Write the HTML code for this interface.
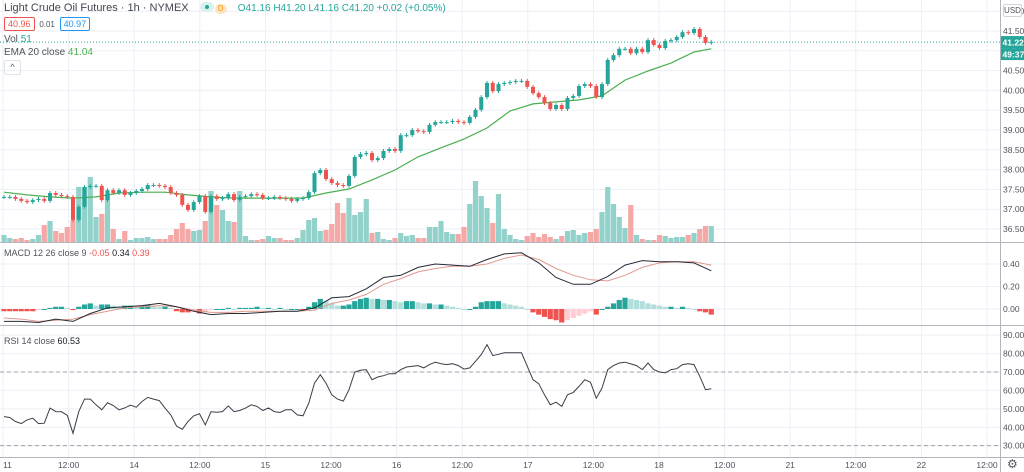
<!DOCTYPE html>
<html><head><meta charset="utf-8">
<style>
html,body{margin:0;padding:0;background:#fff;width:1024px;height:472px;overflow:hidden;font-family:"Liberation Sans",sans-serif;}
#wrap{position:relative;width:1024px;height:472px;}
svg{position:absolute;left:0;top:0;}
.lg{position:absolute;font-size:10px;color:#50535e;white-space:nowrap;}
</style></head><body>
<div id="wrap">
<svg id="chart" width="1024" height="472"></svg>
<div class="lg" style="left:4px;top:2px;font-size:11px;color:#434651">Light Crude Oil Futures · 1h · NYMEX
 <span style="display:inline-block;width:14px;height:10px;border-radius:6px;background:#d9f2ef;vertical-align:-1px;margin-left:8px;position:relative"><span style="position:absolute;left:5px;top:3px;width:4px;height:4px;border-radius:2px;background:#26a69a"></span></span><span style="display:inline-block;width:12px;height:10px;border-radius:6px;background:#fde3c4;color:#ff9800;font-size:8px;text-align:center;line-height:10px;vertical-align:0px;margin-left:1px">D</span>
 <span style="margin-left:8px;color:#26a69a;font-size:10px">O41.16 H41.20 L41.16 C41.20 +0.02 (+0.05%)</span></div>
<div class="lg" style="left:4px;top:17px">
 <span style="display:inline-block;border:1px solid #ef5350;border-radius:2px;color:#ef5350;padding:1px 3px;font-size:9px">40.96</span>
 <span style="font-size:8px;margin:0 2px">0.01</span>
 <span style="display:inline-block;border:1px solid #2196f3;border-radius:2px;color:#2196f3;padding:1px 3px;font-size:9px">40.97</span></div>
<div class="lg" style="left:4px;top:34px">Vol <span style="color:#26a69a">51</span></div>
<div class="lg" style="left:4px;top:47px">EMA 20 close <span style="color:#4caf50">41.04</span></div>
<div style="position:absolute;left:4px;top:60px;width:15px;height:13px;border:1px solid #e0e3eb;border-radius:2px;font-size:9px;text-align:center;line-height:13px;color:#50535e">^</div>
<div class="lg" style="left:4px;top:248px;font-size:9px">MACD 12 26 close 9 <span style="color:#ef5350">-0.05</span> <span style="color:#131722">0.34</span> <span style="color:#ef5350">0.39</span></div>
<div class="lg" style="left:4px;top:336px;font-size:9px">RSI 14 close <span style="color:#131722">60.53</span></div>
<div style="position:absolute;left:1003px;top:4px;width:17px;height:11px;border:1px solid #d1d4dc;border-radius:2px;font-size:8px;text-align:center;line-height:11px;color:#50535e;background:#fff">USD</div>
<div style="position:absolute;left:1007px;top:457px;font-size:12px;color:#50535e">⚙</div>
</div>
<script>
const closes=[37.31,37.31,37.26,37.21,37.18,37.23,37.26,37.21,37.41,37.36,37.33,37.31,36.73,37.06,37.56,37.59,37.59,37.23,37.48,37.41,37.48,37.36,37.41,37.46,37.51,37.61,37.61,37.59,37.56,37.41,37.36,37.11,36.98,37.18,37.33,36.93,37.33,37.26,37.28,37.38,37.23,37.31,37.33,37.38,37.36,37.28,37.28,37.31,37.28,37.26,37.21,37.26,
37.28,37.43,37.91,37.99,37.76,37.66,37.61,37.59,37.84,38.32,38.39,38.42,38.24,38.29,38.47,38.52,38.47,38.87,38.87,39.00,38.97,38.95,39.13,39.20,39.20,39.20,39.23,39.20,39.18,39.33,39.51,39.83,40.19,39.98,40.16,40.19,40.21,40.24,40.24,40.09,39.93,39.83,39.68,39.53,39.63,39.53,39.81,39.86,40.11,40.16,40.11,39.83,40.16,40.77,40.89,41.05,41.05,40.94,41.05,40.97,41.27,41.15,41.07,41.25,41.27,41.35,41.47,41.45,41.55,41.35,41.20,41.22];
const volumes=[7,4,3,4,2,3,7,17,21,11,9,15,22,55,55,65,25,28,48,13,3,11,2,4,4,5,3,3,3,7,13,19,13,11,12,21,51,37,32,21,20,51,6,2,2,3,6,4,4,2,2,4,12,22,24,11,12,18,39,29,44,27,30,43,9,10,3,2,4,9,6,7,4,4,15,15,21,10,8,8,15,38,61,46,34,19,48,13,7,3,2,6,9,5,8,5,3,6,11,12,7,9,10,13,30,55,38,25,14,37,7,3,2,2,7,6,4,5,5,7,9,13,16,16];
const emaBars=[0,4,8,12,16,20,24,28,32,36,40,44,48,52,56,60,64,68,72,76,80,84,88,92,96,100,104,108,112,116,120,123];
const emaValues=[37.43,37.36,37.31,37.28,37.31,37.41,37.43,37.43,37.36,37.31,37.28,37.28,37.28,37.28,37.41,37.51,37.74,37.99,38.32,38.55,38.77,39.05,39.48,39.66,39.71,39.76,39.86,40.26,40.49,40.69,40.97,41.05];
const macdBars=[0,3,6,9,12,15,18,21,24,27,30,33,36,39,42,45,48,51,54,57,60,63,66,69,72,75,78,81,84,87,90,93,96,99,102,105,108,111,114,117,120,123];
const macdLine=[-0.11,-0.11,-0.12,-0.09,-0.11,-0.04,0.01,0.02,0.03,0.05,0.02,-0.02,-0.05,-0.04,-0.04,-0.03,-0.02,-0.02,0.01,0.10,0.11,0.18,0.28,0.30,0.37,0.40,0.39,0.38,0.44,0.49,0.50,0.41,0.28,0.22,0.22,0.29,0.39,0.43,0.42,0.42,0.41,0.34];
const signalLine=[-0.08,-0.09,-0.11,-0.10,-0.09,-0.05,-0.02,0.01,0.02,0.03,0.02,-0.01,-0.03,-0.03,-0.02,-0.02,-0.02,-0.02,-0.01,0.05,0.08,0.13,0.22,0.27,0.33,0.36,0.38,0.38,0.40,0.45,0.48,0.44,0.36,0.30,0.26,0.25,0.30,0.37,0.41,0.42,0.42,0.39];
const histValues=[-0.02,-0.02,-0.02,-0.02,-0.02,-0.02,-0.01,0.00,0.01,0.02,0.02,0.01,-0.01,0.02,0.04,0.05,0.03,0.04,0.04,0.03,0.02,0.03,0.03,0.02,0.03,0.04,0.03,0.02,0.02,0.01,-0.02,-0.03,-0.03,-0.02,-0.04,-0.03,-0.01,0.00,0.00,0.01,0.00,0.01,0.01,0.01,0.02,0.01,0.01,0.00,0.01,0.00,0.00,0.00,-0.01,0.02,0.06,0.09,0.07,0.05,0.03,0.03,0.04,0.07,0.09,0.10,0.09,0.09,0.08,0.08,0.07,0.06,0.07,0.07,0.06,0.05,0.05,0.04,0.04,0.03,0.02,0.01,0.00,0.00,0.02,0.06,0.07,0.07,0.07,0.05,0.04,0.03,0.02,0.00,-0.03,-0.05,-0.07,-0.09,-0.10,-0.12,-0.10,-0.08,-0.06,-0.04,-0.02,-0.05,0.00,0.02,0.05,0.08,0.10,0.09,0.08,0.07,0.05,0.04,0.03,0.02,0.02,0.01,0.02,0.01,0.00,-0.02,-0.03,-0.05];
const rsiValues=[45.8,45.3,43.1,42.0,44.0,44.9,42.0,42.2,50.4,48.5,48.4,46.5,36.7,48.5,55.3,55.3,52.2,49.5,53.3,51.8,49.5,50.5,52.0,50.9,54.0,56.2,55.3,54.5,50.4,46.7,40.7,38.9,43.1,46.2,47.3,41.3,48.4,48.2,48.5,51.6,48.5,49.1,50.4,52.2,51.3,49.1,50.5,48.5,48.0,49.5,49.5,46.7,46.2,53.1,64.0,68.5,64.0,57.6,55.3,54.2,60.4,70.0,70.9,71.3,65.8,67.3,68.0,69.1,69.1,71.3,72.7,73.1,73.5,72.2,74.0,75.3,74.5,74.0,74.5,73.5,71.6,72.2,75.8,79.5,84.9,78.9,79.6,80.4,80.4,80.5,80.4,73.1,65.8,63.6,57.6,52.2,53.6,51.3,57.6,58.9,62.2,65.8,64.4,55.8,61.3,71.3,73.5,74.9,75.3,74.4,73.5,71.3,74.9,71.3,70.0,69.5,71.3,71.8,74.0,74.5,74.0,67.6,60.4,60.9];
const priceTicks=["42.00","41.50","41.00","40.50","40.00","39.50","39.00","38.50","38.00","37.50","37.00","36.50"];
const macdTicks=["0.40","0.20","0.00"];
const rsiTicks=["90.00","80.00","70.00","60.00","50.00","40.00","30.00"];
const timeLabels=["11","12:00","14","12:00","15","12:00","16","12:00","17","12:00","18","12:00","21","12:00","22","12:00"];

const svg=document.getElementById('chart');
const NS='http://www.w3.org/2000/svg';
function mk(tag,attrs,parent){const e=document.createElementNS(NS,tag);for(const k in attrs)e.setAttribute(k,attrs[k]);(parent||svg).appendChild(e);return e;}
const xS=i=>4+5.75*i;
const yP=p=>31+(41.5-p)*39.6;
const yM=v=>309-v*112.5;
const yR=v=>372-(v-70)*1.842;
const yV=v=>242-v;
const xT=k=>3+65.6*k;

const grid=mk('g',{});


timeLabels.forEach((t,k)=>{mk('line',{x1:xT(k),x2:xT(k),y1:0,y2:458,stroke:'#eceff5','stroke-width':1},grid);});
priceTicks.forEach(t=>{const y=yP(parseFloat(t));if(y>0&&y<242)mk('line',{x1:0,x2:1000,y1:y,y2:y,stroke:'#eceff5'},grid);});
macdTicks.forEach(t=>{const y=yM(parseFloat(t));mk('line',{x1:0,x2:1000,y1:y,y2:y,stroke:'#eceff5'},grid);});
rsiTicks.forEach(t=>{const y=yR(parseFloat(t));mk('line',{x1:0,x2:1000,y1:y,y2:y,stroke:'#eceff5'},grid);});

const vg=mk('g',{});


volumes.forEach((v,i)=>{const o=i>0?closes[i-1]:closes[0];const up=closes[i]>=o;
 const r=mk('rect',{x:xS(i)-2.6,y:yV(v),width:5.2,height:v,fill:up?'#93d2cb':'#f6a8a6'},vg);
 
 });

const pl=mk('line',{x1:0,x2:1000,y1:yP(closes[closes.length-1]),y2:yP(closes[closes.length-1]),stroke:'#26a69a','stroke-dasharray':'1 2','stroke-width':1});



let d='';emaBars.forEach((b,j)=>{d+=(j?'L':'M')+xS(b).toFixed(1)+' '+yP(emaValues[j]).toFixed(1);});
const ema=mk('path',{d:d,fill:'none',stroke:'#4caf50','stroke-width':1.2});



const cg=mk('g',{});


closes.forEach((c,i)=>{const o=i>0?closes[i-1]:c;const up=c>=o;const col=up?'#26a69a':'#ef5350';
 const hi=Math.max(o,c)+0.05,lo=Math.min(o,c)-0.05;
 const g=mk('g',{},cg);
 
 
 mk('line',{x1:xS(i),x2:xS(i),y1:yP(hi),y2:yP(lo),stroke:col,'stroke-width':1},g);
 const top=yP(Math.max(o,c)),h=Math.max(1,yP(Math.min(o,c))-top);
 mk('rect',{x:xS(i)-2,y:top,width:4,height:h,fill:col},g);});

[242.5,325.5,457.5].forEach(y=>{const l=mk('line',{x1:0,x2:1024,y1:y,y2:y,stroke:'#b2b5be','stroke-width':1});
 
 });
const ax=mk('line',{x1:1000.5,x2:1000.5,y1:0,y2:472,stroke:'#b2b5be'});



const hg=mk('g',{});


histValues.forEach((v,i)=>{const p=i>0?histValues[i-1]:v;let col;
 if(v>=0)col=v>=p?'#26a69a':'#b2dfdb';else col=v<=p?'#ef5350':'#ffcdd2';
 const y0=yM(0),y1=yM(v);
 const r=mk('rect',{x:xS(i)-2.6,y:Math.min(y0,y1),width:5.2,height:Math.max(1,Math.abs(y1-y0)),fill:col},hg);
 
 });
let dm='',ds='';macdBars.forEach((b,j)=>{dm+=(j?'L':'M')+xS(b).toFixed(1)+' '+yM(macdLine[j]).toFixed(1);ds+=(j?'L':'M')+xS(b).toFixed(1)+' '+yM(signalLine[j]).toFixed(1);});
const sl=mk('path',{d:ds,fill:'none',stroke:'#e0998f','stroke-width':1});


const ml=mk('path',{d:dm,fill:'none',stroke:'#262a33','stroke-width':1});



[70,30].forEach(v=>{const l=mk('line',{x1:0,x2:1000,y1:yR(v),y2:yR(v),stroke:'#a0a3ab','stroke-dasharray':'4 3'});
 
 });
let dr='';rsiValues.forEach((v,i)=>{dr+=(i?'L':'M')+xS(i).toFixed(1)+' '+yR(v).toFixed(1);});
const rl=mk('path',{d:dr,fill:'none',stroke:'#3b3e45','stroke-width':1});



function axText(t,x,y,name,anchor){const e=mk('text',{x:x,y:y,'font-size':8.5,fill:'#50535e','font-family':'Liberation Sans, sans-serif','text-anchor':anchor||'start'});e.textContent=t;
 
 return e;}
priceTicks.forEach(t=>{const y=yP(parseFloat(t));if(y>6&&y<240)axText(t,1003,y+3,'price-tick-label');});
macdTicks.forEach(t=>axText(t,1003,yM(parseFloat(t))+3,'macd-tick-label'));
rsiTicks.forEach(t=>axText(t,1003,yR(parseFloat(t))+3,'rsi-tick-label'));
timeLabels.forEach((t,k)=>{if(xT(k)<1000)axText(t,xT(k),468,'time-tick-label',k===0?'start':'middle');});

function tag(t,y,name){const g=mk('g',{});
 
 
 mk('rect',{x:1001,y:y-6,width:23,height:12,fill:'#26a69a'},g);
 const e=mk('text',{x:1002.5,y:y+3.5,'font-size':8.5,fill:'#fff','font-family':'Liberation Sans, sans-serif','font-weight':'bold'},g);e.textContent=t;}
tag(closes[closes.length-1].toFixed(2),yP(closes[closes.length-1]),'last-price-tag');
tag('49:37',yP(closes[closes.length-1])+12,'bar-countdown-tag');
</script>
</body></html>
